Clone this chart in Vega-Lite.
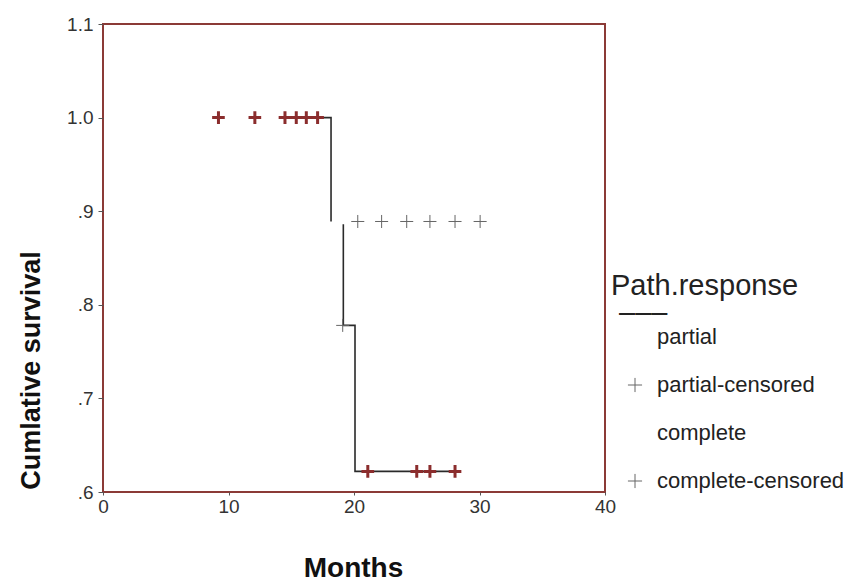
{
  "$schema": "https://vega.github.io/schema/vega-lite/v6.json",
  "width": 502,
  "height": 468,
  "autosize": {"type": "none"},
  "padding": {"left": 103, "top": 24, "right": 243, "bottom": 89},
  "background": "white",
  "config": {
    "font": "Liberation Sans",
    "view": {"stroke": "#8b3a36", "strokeWidth": 2},
    "axis": {"grid": false, "domain": false, "tickColor": "#555", "labelColor": "#333", "labelFontSize": 19, "labelFont": "Liberation Sans", "titleFont": "Liberation Sans", "titleFontWeight": "bold", "titleColor": "#111", "labelFlush": false, "labelOverlap": false}
  },
  "datasets": {
    "curve": [
      {"seg": "A", "o": 1, "t": 14.5, "s": 1.0},
      {"seg": "A", "o": 2, "t": 18.17, "s": 1.0},
      {"seg": "A", "o": 3, "t": 18.17, "s": 0.889},
      {"seg": "B", "o": 1, "t": 19.15, "s": 0.886},
      {"seg": "B", "o": 2, "t": 19.15, "s": 0.778},
      {"seg": "B", "o": 3, "t": 20.08, "s": 0.778},
      {"seg": "B", "o": 4, "t": 20.08, "s": 0.622},
      {"seg": "B", "o": 5, "t": 28.45, "s": 0.622}
    ],
    "partialCens": [
      {"group": "partial-censored", "t": 19.1, "s": 0.778},
      {"group": "partial-censored", "t": 20.3, "s": 0.889},
      {"group": "partial-censored", "t": 22.2, "s": 0.889},
      {"group": "partial-censored", "t": 24.2, "s": 0.889},
      {"group": "partial-censored", "t": 26.05, "s": 0.889},
      {"group": "partial-censored", "t": 28.05, "s": 0.889},
      {"group": "partial-censored", "t": 30.05, "s": 0.889}
    ],
    "completeCens": [
      {"group": "complete-censored", "t": 9.2, "s": 1.0},
      {"group": "complete-censored", "t": 12.1, "s": 1.0},
      {"group": "complete-censored", "t": 14.5, "s": 1.0},
      {"group": "complete-censored", "t": 15.4, "s": 1.0},
      {"group": "complete-censored", "t": 16.2, "s": 1.0},
      {"group": "complete-censored", "t": 17.1, "s": 1.0},
      {"group": "complete-censored", "t": 21.1, "s": 0.622},
      {"group": "complete-censored", "t": 25.0, "s": 0.622},
      {"group": "complete-censored", "t": 26.05, "s": 0.622},
      {"group": "complete-censored", "t": 28.05, "s": 0.622}
    ]
  },
  "encoding": {
    "x": {
      "field": "t", "type": "quantitative",
      "scale": {"domain": [0, 40], "nice": false, "zero": false},
      "axis": {"values": [0, 10, 20, 30, 40], "tickSize": 3, "labelPadding": 2, "title": "Months", "titleFontSize": 28, "titleBaseline": "alphabetic", "titleY": 84, "titleX": 250}
    },
    "y": {
      "field": "s", "type": "quantitative",
      "scale": {"domain": [0.6, 1.1], "nice": false, "zero": false},
      "axis": {"values": [0.6, 0.7, 0.8, 0.9, 1.0, 1.1], "tickSize": 5, "labelPadding": 5,
        "labelExpr": "datum.value >= 1 ? format(datum.value, '.1f') : replace(format(datum.value, '.1f'), '0.', '.')",
        "title": "Cumlative survival", "titleFontSize": 27, "titleBaseline": "alphabetic", "titleAngle": -90, "titleAlign": "center", "titleX": -64, "titleY": 346}
    }
  },
  "layer": [
    {
      "data": {"name": "curve"},
      "mark": {"type": "line", "color": "#2a2a2a", "strokeWidth": 1.6, "interpolate": "linear"},
      "encoding": {
        "detail": {"field": "seg", "type": "nominal"},
        "order": {"field": "o", "type": "quantitative"}
      }
    },
    {
      "data": {"name": "partialCens"},
      "mark": {"type": "point", "filled": false, "stroke": "#666", "strokeWidth": 1, "size": 170, "opacity": 1},
      "encoding": {
        "shape": {
          "field": "group", "type": "nominal",
          "scale": {"domain": ["partial", "partial-censored", "complete", "complete-censored"], "range": ["M0,0", "M-1,0H1M0,-1V1", "M0,0", "M-1,0H1M0,-1V1"]},
          "legend": {
            "orient": "none", "legendX": 508, "legendY": 248, "padding": 0,
            "title": ["Path.response", "\u200b\u00a0–––"],
            "titleFontSize": 29, "titleFontWeight": "normal", "titleColor": "#222", "titleLineHeight": 27, "titlePadding": -2, "titleLimit": 300,
            "labelFontSize": 22, "labelColor": "#222", "labelFont": "Liberation Sans", "titleFont": "Liberation Sans", "labelLimit": 300,
            "symbolSize": 200, "symbolStrokeWidth": 1, "symbolStrokeColor": "#666", "symbolFillColor": "transparent",
            "symbolOffset": 13, "labelOffset": 11, "rowPadding": 26
          }
        }
      }
    },
    {
      "data": {"name": "completeCens"},
      "mark": {"type": "point", "filled": false, "stroke": "#8b2d2d", "strokeWidth": 3, "size": 160, "opacity": 1},
      "encoding": {
        "shape": {"field": "group", "type": "nominal"}
      }
    }
  ]
}
